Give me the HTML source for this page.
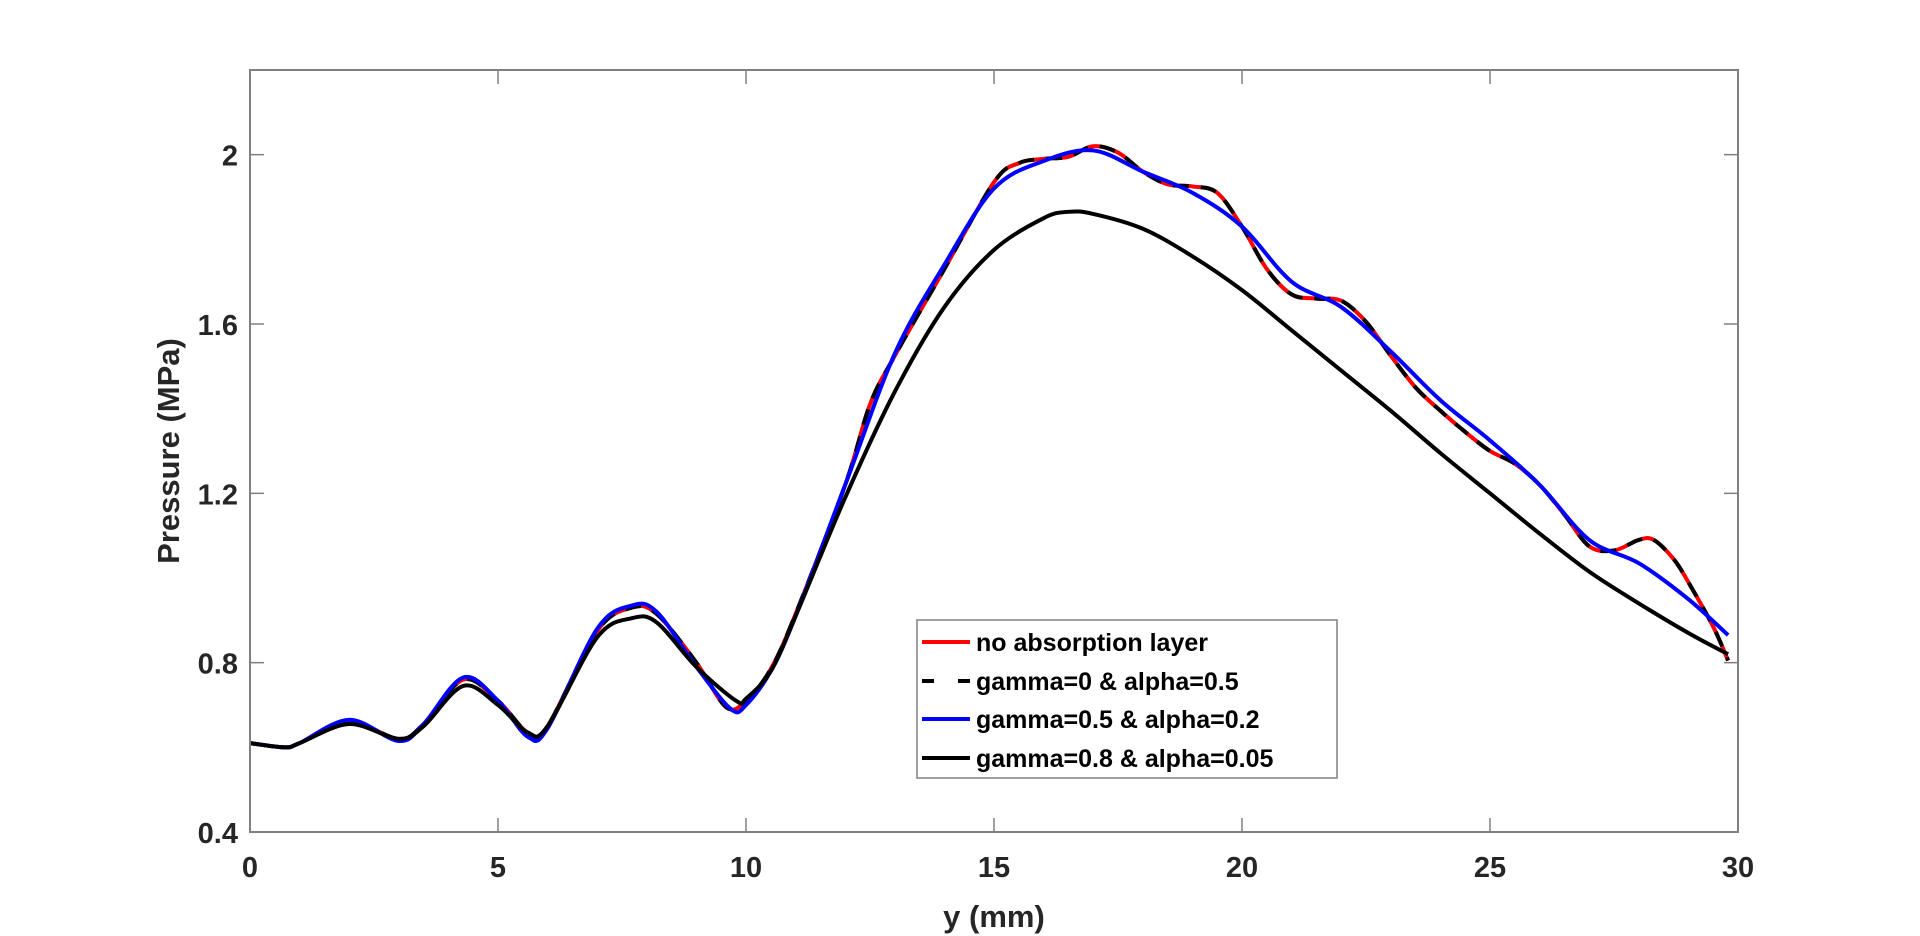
<!DOCTYPE html>
<html><head><meta charset="utf-8"><style>
html,body{margin:0;padding:0;background:#fff;}
svg{display:block;font-family:"Liberation Sans",Arial,sans-serif;}
</style></head><body>
<svg id="chart" width="1920" height="936" viewBox="0 0 1920 936" xmlns="http://www.w3.org/2000/svg">
<rect x="0" y="0" width="1920" height="936" fill="#fff"/>
<g id="plot"></g>
<g id="axes"></g>
</svg>
<script>
const xTicks=[0,5,10,15,20,25,30];
const yTicks=[0.4,0.8,1.2,1.6,2.0];
const yTickLabels=["0.4","0.8","1.2","1.6","2"];
const xRed=[0,0.7,1,2,3,3.5,4.3,5,5.6,6,7,7.7,8.2,9,9.6,10,10.5,11,12,12.5,13,14,15,15.5,16,16.5,17,17.5,18,18.5,19,19.5,20,20.5,21,21.5,22,22.5,23,23.5,24,24.5,25,25.5,26,26.5,27,27.5,28,28.3,28.7,29,29.5,29.8];
const yRed=[0.61,0.60,0.61,0.66,0.62,0.655,0.76,0.71,0.635,0.65,0.875,0.93,0.915,0.80,0.695,0.71,0.785,0.915,1.22,1.41,1.525,1.73,1.935,1.98,1.99,1.995,2.02,2.005,1.96,1.93,1.925,1.91,1.83,1.73,1.67,1.66,1.655,1.605,1.525,1.45,1.395,1.345,1.30,1.27,1.22,1.15,1.075,1.065,1.09,1.09,1.045,0.99,0.885,0.805];
const xBlue=[0,0.7,1,2,3,3.5,4.3,5,5.6,6,7,7.7,8.2,9,9.7,10,10.5,11,12,13,14,15,16,17,18,19,20,21,22,23,24,25,26,27,28,29,29.8];
const yBlue=[0.61,0.60,0.61,0.665,0.615,0.655,0.765,0.71,0.625,0.645,0.88,0.935,0.92,0.79,0.69,0.70,0.78,0.91,1.22,1.53,1.74,1.92,1.985,2.01,1.96,1.91,1.83,1.70,1.64,1.535,1.42,1.325,1.22,1.09,1.035,0.95,0.865];
const xBlack=[0,0.7,1,2,3,3.5,4.3,5,5.6,6,7,7.7,8.2,9,9.8,10,10.5,11,12,13,14,15,16,16.5,17,18,19,20,21,22,23,24,25,26,27,28,29,29.8];
const yBlack=[0.61,0.60,0.61,0.655,0.62,0.65,0.745,0.70,0.635,0.65,0.86,0.905,0.895,0.79,0.71,0.715,0.78,0.91,1.19,1.44,1.64,1.775,1.85,1.865,1.86,1.825,1.76,1.68,1.585,1.49,1.395,1.295,1.20,1.105,1.015,0.94,0.87,0.82];

const L=250,R=1738,T=70,B=832,X0=0,X1=30,Y0=0.4,Y1=2.2;
const sx=v=>L+(v-X0)/(X1-X0)*(R-L);
const sy=v=>B-(v-Y0)/(Y1-Y0)*(B-T);
const NS="http://www.w3.org/2000/svg";
function mk(tag,attrs,parent){const e=document.createElementNS(NS,tag);for(const k in attrs)e.setAttribute(k,attrs[k]);parent.appendChild(e);return e;}
function smoothPath(xs,ys){
  const p=xs.map((x,i)=>[sx(x),sy(ys[i])]);
  let d="M"+p[0][0]+","+p[0][1];
  for(let i=0;i<p.length-1;i++){
    const p0=p[i-1]||p[i],p1=p[i],p2=p[i+1],p3=p[i+2]||p2;
    const c1x=p1[0]+(p2[0]-p0[0])/6,c1y=p1[1]+(p2[1]-p0[1])/6;
    const c2x=p2[0]-(p3[0]-p1[0])/6,c2y=p2[1]-(p3[1]-p1[1])/6;
    d+=" C"+c1x+","+c1y+" "+c2x+","+c2y+" "+p2[0]+","+p2[1];
  }
  return d;
}
const plot=document.getElementById('plot');
const axes=document.getElementById('axes');
const series=[
 {n:'no-absorption-line',x:xRed,y:yRed,c:'#ff0000',dash:null},
 {n:'gamma0-alpha05-line',x:xRed,y:yRed,c:'#000000',dash:'16,12'},
 {n:'gamma05-alpha02-line',x:xBlue,y:yBlue,c:'#0000ff',dash:null},
 {n:'gamma08-alpha005-line',x:xBlack,y:yBlack,c:'#000000',dash:null}
];
series.forEach(s=>{
  const a={d:smoothPath(s.x,s.y),fill:'none',stroke:s.c,'stroke-width':4,'stroke-linejoin':'round'};
  if(s.dash)a['stroke-dasharray']=s.dash;
  const e=mk('path',a,plot);
  
  
});
// box
const box=mk('rect',{x:L,y:T,width:R-L,height:B-T,fill:'none',stroke:'#808080','stroke-width':2},axes);


xTicks.forEach(v=>{
  const x=sx(v);
  mk('line',{x1:x,y1:B,x2:x,y2:B-14,stroke:'#808080','stroke-width':1.5},axes);
  mk('line',{x1:x,y1:T,x2:x,y2:T+14,stroke:'#808080','stroke-width':1.5},axes);
  const t=mk('text',{x:x,y:877,'text-anchor':'middle','font-size':29,'font-weight':'bold',fill:'#262626'},axes);
  t.textContent=String(v);
  
  
});
yTicks.forEach((v,i)=>{
  const y=sy(v);
  mk('line',{x1:L,y1:y,x2:L+14,y2:y,stroke:'#808080','stroke-width':1.5},axes);
  mk('line',{x1:R,y1:y,x2:R-14,y2:y,stroke:'#808080','stroke-width':1.5},axes);
  const t=mk('text',{x:238,y:y+11,'text-anchor':'end','font-size':29,'font-weight':'bold',fill:'#262626'},axes);
  t.textContent=yTickLabels[i];
  
  
});
const xt=mk('text',{x:(L+R)/2,y:927,'text-anchor':'middle','font-size':31,'font-weight':'bold',fill:'#262626'},axes);
xt.textContent='y (mm)';


const yt=mk('text',{x:0,y:0,'text-anchor':'middle','font-size':31,'font-weight':'bold',fill:'#262626',transform:'translate(179,451) rotate(-90)'},axes);
yt.textContent='Pressure (MPa)';


// legend
const lg=mk('g',{},axes);


mk('rect',{x:917,y:620,width:420,height:158,fill:'#fff',stroke:'#808080','stroke-width':1.5},lg);
const labels=['no absorption layer','gamma=0 & alpha=0.5','gamma=0.5 & alpha=0.2','gamma=0.8 & alpha=0.05'];
const rowsY=[642,681,719,758];
series.forEach((s,i)=>{
  const a={x1:922,y1:rowsY[i],x2:970,y2:rowsY[i],stroke:s.c,'stroke-width':4};
  if(s.dash)a['stroke-dasharray']='12,24';
  mk('line',a,lg);
  const t=mk('text',{x:976,y:rowsY[i]+9,'font-size':25,'font-weight':'bold',fill:'#000'},lg);
  t.textContent=labels[i];
  
  
});
</script>
</body></html>
